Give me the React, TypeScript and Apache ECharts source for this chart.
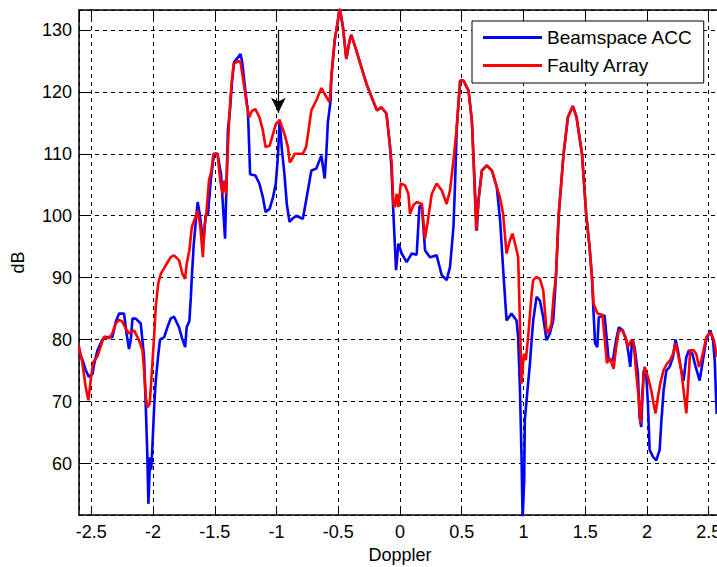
import React, { useEffect, useRef } from "react";
import * as echarts from "echarts";

// Doppler positions and dB values for "Beamspace ACC" (blue)
const beamX = [
  -2.6, -2.573, -2.546, -2.52, -2.49, -2.478, -2.45, -2.41, -2.38, -2.33, -2.3, -2.275, -2.235, -2.215, -2.195, -2.18,
  -2.167, -2.14, -2.1, -2.073, -2.06, -2.046, -2.038, -2.024, -2.015, -2.005, -1.99, -1.978, -1.96, -1.944, -1.91,
  -1.884, -1.857, -1.83, -1.79, -1.765, -1.74, -1.728, -1.706, -1.694, -1.686, -1.672, -1.658, -1.639, -1.622, -1.603,
  -1.589, -1.575, -1.555, -1.533, -1.506, -1.478, -1.45, -1.428, -1.417, -1.406, -1.394, -1.375, -1.36, -1.344, -1.311,
  -1.292, -1.278, -1.256, -1.233, -1.228, -1.214, -1.172, -1.139, -1.111, -1.089, -1.056, -1.028, -1.006, -0.989, -0.975,
  -0.956, -0.936, -0.917, -0.895, -0.867, -0.84, -0.787, -0.76, -0.718, -0.678, -0.637, -0.61, -0.597, -0.584, -0.562,
  -0.556, -0.529, -0.503, -0.489, -0.475, -0.462, -0.435, -0.408, -0.394, -0.354, -0.313, -0.272, -0.219, -0.187, -0.151,
  -0.11, -0.083, -0.07, -0.055, -0.035, -0.032, -0.013, 0.014, 0.054, 0.095, 0.135, 0.157, 0.176, 0.203, 0.243, 0.297,
  0.338, 0.378, 0.405, 0.433, 0.446, 0.46, 0.487, 0.514, 0.555, 0.582, 0.595, 0.622, 0.636, 0.663, 0.703, 0.744, 0.784,
  0.811, 0.838, 0.863, 0.903, 0.944, 0.957, 0.971, 0.984, 0.993, 1.006, 1.011, 1.03, 1.052, 1.066, 1.079, 1.106, 1.133,
  1.16, 1.187, 1.214, 1.241, 1.263, 1.285, 1.325, 1.36, 1.4, 1.43, 1.474, 1.509, 1.535, 1.555, 1.565, 1.58, 1.598, 1.61,
  1.657, 1.69, 1.724, 1.751, 1.773, 1.805, 1.832, 1.851, 1.865, 1.88, 1.9, 1.927, 1.94, 1.954, 1.973, 1.995, 2.008,
  2.022, 2.049, 2.076, 2.103, 2.116, 2.135, 2.157, 2.184, 2.211, 2.232, 2.251, 2.278, 2.297, 2.319, 2.341, 2.368, 2.395,
  2.427, 2.454, 2.481, 2.514, 2.535, 2.549, 2.565,
];
const beamY = [
  77.7, 76.8, 75.1, 74.0, 74.5, 76.0, 78.3, 80.0, 80.4, 80.4, 83.0, 84.2, 84.2, 81.0, 78.5, 80.0,
  83.4, 83.4, 82.6, 77.2, 69.7, 61.0, 53.5, 61.0, 59.0, 63.0, 69.7, 73.4, 77.2, 80.0, 80.4,
  82.0, 83.4, 83.7, 82.0, 80.2, 78.8, 82.0, 83.0, 86.9, 90.1, 95.0, 98.2, 102.2, 100.3, 97.1,
  96.6, 100.0, 100.3, 105.7, 110.0, 110.0, 106.7, 99.7, 96.3, 104.6, 113.8, 117.5, 121.8, 124.8, 125.6,
  126.1, 124.8, 120.8, 117.0, 114.8, 106.7, 106.5, 105.2, 103.0, 100.6, 101.1, 103.0, 105.2, 109.5, 115.5,
  110.5, 106.7, 101.9, 99.0, 99.6, 100.0, 99.5, 102.5, 107.3, 107.6, 109.7, 106.0, 110.0, 115.1, 118.6,
  122.4, 128.3, 131.5, 133.5, 132.0, 130.4, 125.3, 128.3, 129.2, 126.7, 124.0, 121.3, 118.6, 117.0, 117.5,
  116.5, 111.6, 108.0, 101.0, 92.5, 91.2, 95.5, 93.9, 92.5, 93.9, 93.7, 101.4, 101.9, 94.4, 93.3, 93.6,
  90.4, 89.6, 91.7, 98.2, 105.2, 114.3, 121.8, 121.8, 120.2, 115.4, 109.5, 97.6, 102.5, 107.3, 108.1, 107.3, 104.6,
  99.2, 90.6, 83.1, 84.2, 83.1, 80.4, 72.4, 61.6, 51.0, 57.3, 67.0, 71.3, 76.1, 79.9, 83.1, 86.9, 86.3,
  83.6, 79.9, 81.0, 83.1, 90.1, 100.0, 110.0, 115.9, 117.7, 115.9, 110.0, 100.0, 95.0, 90.0, 85.5, 79.4, 78.8, 83.6,
  83.9, 76.7, 76.7, 80.0, 82.0, 81.5, 79.9, 77.7, 75.6, 80.0, 78.8, 74.5, 67.5, 65.9, 75.0, 74.2, 69.7,
  62.2, 61.1, 60.5, 62.2, 66.5, 71.8, 75.0, 75.6, 77.2, 80.0, 78.3, 75.0, 73.4, 77.2, 78.3, 77.7, 75.6,
  73.4, 76.7, 80.0, 81.5, 80.0, 76.7, 68.0,
];

// Doppler positions and dB values for "Faulty Array" (red)
const faultyX = [
  -2.6, -2.573, -2.546, -2.524, -2.505, -2.486, -2.451, -2.424, -2.397, -2.357, -2.33, -2.303, -2.276, -2.249, -2.222,
  -2.195, -2.154, -2.114, -2.086, -2.073, -2.059, -2.046, -2.027, -2.011, -1.992, -1.978, -1.959, -1.938, -1.897, -1.857,
  -1.83, -1.789, -1.762, -1.741, -1.728, -1.706, -1.686, -1.658, -1.639, -1.617, -1.597, -1.583, -1.569, -1.547, -1.528,
  -1.511, -1.478, -1.456, -1.436, -1.422, -1.408, -1.394, -1.381, -1.367, -1.347, -1.311, -1.292, -1.269, -1.242, -1.222,
  -1.2, -1.172, -1.139, -1.111, -1.089, -1.056, -1.028, -1.006, -0.975, -0.95, -0.936, -0.908, -0.893, -0.881, -0.853,
  -0.84, -0.787, -0.76, -0.718, -0.678, -0.637, -0.603, -0.57, -0.556, -0.529, -0.503, -0.489, -0.475, -0.462, -0.435,
  -0.408, -0.394, -0.354, -0.313, -0.272, -0.219, -0.187, -0.151, -0.11, -0.083, -0.067, -0.054, -0.041, -0.027, -0.013,
  0.006, 0.041, 0.068, 0.081, 0.108, 0.135, 0.176, 0.203, 0.23, 0.257, 0.297, 0.338, 0.378, 0.405, 0.433, 0.46, 0.487,
  0.514, 0.555, 0.582, 0.595, 0.617, 0.636, 0.663, 0.703, 0.744, 0.784, 0.809, 0.835, 0.863, 0.89, 0.911, 0.938, 0.957,
  0.971, 0.984, 1.003, 1.019, 1.038, 1.066, 1.079, 1.106, 1.133, 1.16, 1.187, 1.2, 1.227, 1.246, 1.263, 1.285, 1.325,
  1.36, 1.4, 1.43, 1.474, 1.509, 1.535, 1.555, 1.568, 1.6, 1.64, 1.676, 1.7, 1.73, 1.751, 1.773, 1.8, 1.827, 1.846,
  1.873, 1.892, 1.914, 1.932, 1.949, 1.962, 1.981, 2.008, 2.035, 2.054, 2.07, 2.089, 2.108, 2.135, 2.162, 2.189, 2.211,
  2.232, 2.251, 2.278, 2.297, 2.319, 2.341, 2.351, 2.378, 2.4, 2.422, 2.441, 2.459, 2.481, 2.514, 2.541, 2.568,
];
const faultyY = [
  78.9, 76.3, 72.4, 70.2, 73.5, 76.3, 77.3, 78.9, 80.5, 80.2, 81.0, 82.6, 83.2, 82.9, 81.8,
  81.0, 81.5, 79.9, 78.3, 75.1, 70.8, 69.1, 69.7, 74.5, 80.4, 85.3, 89.0, 90.6, 92.0, 93.3,
  93.6, 92.8, 90.6, 89.8, 92.2, 94.4, 98.2, 99.7, 100.8, 98.2, 93.3, 98.2, 100.3, 105.7, 107.2,
  110.0, 110.0, 105.7, 103.5, 105.7, 103.5, 111.0, 116.5, 120.8, 124.5, 125.0, 124.8, 121.8, 118.0, 115.9,
  116.9, 117.2, 115.9, 113.8, 111.1, 111.3, 113.2, 114.8, 115.4, 114.0, 113.2, 111.1, 108.6, 108.9, 110.0,
  110.0, 110.0, 111.1, 117.0, 118.6, 120.6, 119.4, 118.3, 122.4, 128.3, 131.5, 133.5, 132.0, 130.4, 125.3,
  128.3, 129.2, 126.7, 124.0, 121.3, 118.6, 117.0, 117.5, 116.5, 111.6, 108.4, 101.9, 101.4, 103.5, 101.4,
  105.2, 104.9, 103.5, 100.3, 101.7, 102.2, 101.9, 96.3, 99.8, 103.5, 105.2, 104.1, 101.9, 104.1, 108.9, 114.3, 121.8,
  121.8, 120.2, 115.4, 109.5, 97.6, 102.5, 107.3, 108.1, 107.3, 104.6, 103.0, 100.3, 93.9, 96.0, 97.1, 95.0, 93.3,
  83.1, 72.9, 77.7, 76.7, 80.4, 87.4, 89.6, 90.1, 89.8, 88.0, 81.5, 81.0, 82.6, 87.4, 90.1, 100.0, 110.0,
  115.9, 117.7, 115.9, 110.0, 100.0, 95.0, 90.0, 85.8, 84.2, 84.0, 76.2, 77.0, 75.3, 78.8, 81.5, 81.5, 80.4, 78.8,
  79.9, 79.6, 74.5, 70.8, 66.5, 71.3, 75.6, 74.0, 71.8, 69.7, 68.1, 70.8, 72.9, 75.1, 76.1, 76.7, 77.7,
  79.4, 77.7, 75.1, 71.8, 68.1, 75.1, 78.3, 78.3, 77.7, 75.6, 76.7, 78.3, 80.4, 81.2, 80.0, 77.2,
];

const seriesNames = ["Beamspace ACC", "Faulty Array"];
const xRange = [-2.6, 2.6];
const yRange = [51.7, 133.2];
// Arrow annotation pointing at the target near Doppler -1
const arrowX = -0.985;
const arrowYStart = 130;
const arrowYEnd = 116.6;

const FONT = "'Liberation Sans', Arial, sans-serif";

export default function App() {
  const ref = useRef<HTMLDivElement>(null);

  useEffect(() => {
    if (!ref.current) return;
    const chart = echarts.init(ref.current, undefined, { renderer: "svg" });
    const pair = (xs: number[], ys: number[]) => xs.map((x, i) => [x, ys[i]]);

    const gridLine = { show: true, lineStyle: { color: "#000", width: 1, type: [4, 4] as any } };
    const axisText = { color: "#000", fontSize: 18, fontFamily: FONT };

    chart.setOption({
      animation: false,
      backgroundColor: "#fff",
      grid: {
        left: 79,
        right: -4,
        top: 10,
        bottom: 52,
        containLabel: false,
        outerBoundsMode: "none",
      },
      legend: {
        orient: "vertical",
        left: 472,
        top: 21,
        padding: [7, 11, 8, 11],
        itemGap: 9,
        icon: "rect",
        itemWidth: 59,
        itemHeight: 3,
        itemTextGap: 6,
        borderColor: "#000",
        borderWidth: 1,
        backgroundColor: "#fff",
        textStyle: { color: "#000", fontSize: 19, fontFamily: FONT, lineHeight: 19 },
        data: seriesNames,
      },
      xAxis: [
        {
          type: "value",
          min: xRange[0],
          max: xRange[1],
          splitNumber: 10,
          name: "Doppler",
          nameLocation: "middle",
          nameGap: 30,
          nameTextStyle: { ...axisText },
          axisLine: { onZero: false, lineStyle: { color: "#000", width: 1.5 } },
          axisTick: { inside: true, length: 8, lineStyle: { color: "#000" } },
          axisLabel: { ...axisText, margin: 8, showMinLabel: false, showMaxLabel: false },
          splitLine: gridLine,
        },
        {
          type: "value",
          position: "top",
          min: xRange[0],
          max: xRange[1],
          splitNumber: 10,
          axisLine: { onZero: false, lineStyle: { color: "#000", width: 1.5 } },
          axisTick: { inside: true, length: 8, lineStyle: { color: "#000" } },
          axisLabel: { show: false },
          splitLine: { show: false },
        },
      ],
      yAxis: {
        type: "value",
        min: yRange[0],
        max: yRange[1],
        splitNumber: 8,
        name: "dB",
        nameLocation: "middle",
        nameGap: 52,
        nameTextStyle: { ...axisText },
        axisLine: { show: true, onZero: false, lineStyle: { color: "#000", width: 1.5 } },
        axisTick: { show: true, inside: true, length: 8, lineStyle: { color: "#000" } },
        axisLabel: { ...axisText, margin: 7, showMinLabel: false, showMaxLabel: false },
        splitLine: gridLine,
      },
      series: [
        {
          name: seriesNames[0],
          type: "line",
          data: pair(beamX, beamY),
          showSymbol: false,
          symbol: "none",
          lineStyle: { color: "#0000ff", width: 2.6 },
          itemStyle: { color: "#0000ff" },
          clip: true,
          z: 2,
        },
        {
          name: seriesNames[1],
          type: "line",
          data: pair(faultyX, faultyY),
          showSymbol: false,
          symbol: "none",
          lineStyle: { color: "#ff0000", width: 2.6 },
          itemStyle: { color: "#ff0000" },
          clip: true,
          z: 3,
          markLine: {
            silent: true,
            animation: false,
            symbol: ["none", "arrow"],
            symbolSize: [11, 15],
            label: { show: false },
            lineStyle: { color: "#000", width: 1.2, type: "solid" },
            itemStyle: { color: "#000" },
            data: [[{ coord: [arrowX, arrowYStart] }, { coord: [arrowX, arrowYEnd] }]],
          },
        },
      ],
    });
    return () => chart.dispose();
  }, []);

  return (
    <div
      ref={ref}
      style={{ position: "fixed", left: 0, top: 0, width: 717, height: 567, background: "#fff" }}
    />
  );
}
